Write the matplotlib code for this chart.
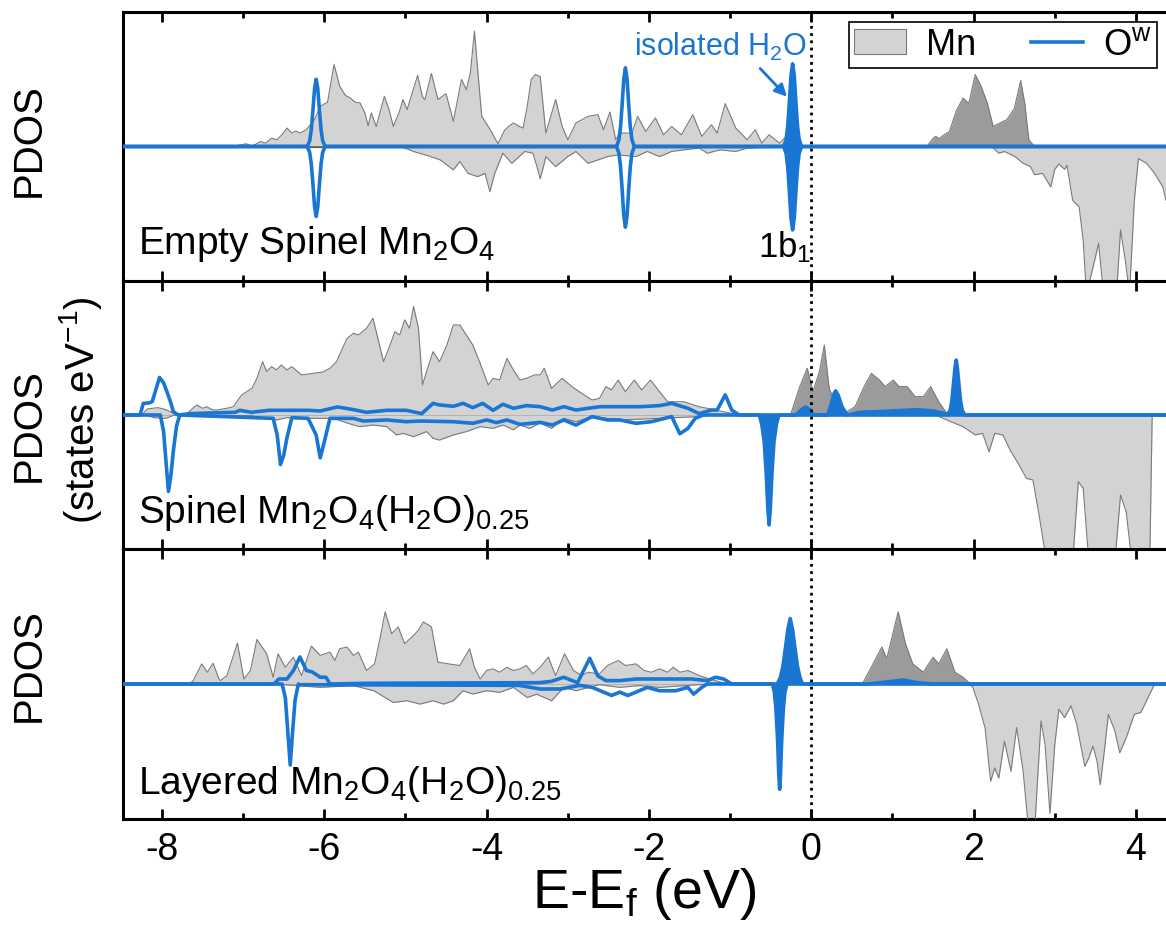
import matplotlib
matplotlib.use("Agg")
import matplotlib.pyplot as plt
from matplotlib.patches import Patch
from matplotlib.lines import Line2D
from matplotlib.ticker import MultipleLocator
import numpy as np

plt.rcParams["font.family"] = ["Liberation Sans", "DejaVu Sans"]
plt.rcParams["mathtext.default"] = "regular"
plt.rcParams["axes.unicode_minus"] = False

# ---------------- Panel 1: empty spinel Mn2O4 ----------------
mn_up_1_e = [-8.48, -7.12, -7.05, -6.96, -6.90, -6.85, -6.79, -6.72, -6.65, -6.58, -6.52, -6.46,
             -6.40, -6.35, -6.30, -6.22, -6.12, -6.05, -5.96, -5.88, -5.81, -5.74, -5.68, -5.62,
             -5.56, -5.50, -5.46, -5.42, -5.36, -5.26, -5.20, -5.15, -5.08, -5.03, -4.98, -4.85,
             -4.79, -4.76, -4.68, -4.60, -4.50, -4.41, -4.31, -4.25, -4.20, -4.15, -4.10, -4.06,
             -3.95, -3.86, -3.78, -3.73, -3.67, -3.60, -3.55, -3.50, -3.45, -3.40, -3.34, -3.27,
             -3.15, -3.07, -3.00, -2.90, -2.75, -2.63, -2.56, -2.48, -2.41, -2.36, -2.21, -2.14,
             -2.04, -1.92, -1.82, -1.72, -1.60, -1.46, -1.35, -1.23, -1.16, -1.06, -0.93, -0.79,
             -0.69, -0.61, -0.52, -0.39, -0.27, -0.17, -0.10,
             1.40, 1.43, 1.50, 1.53, 1.58, 1.62, 1.70, 1.79, 1.87, 1.94, 2.02, 2.09, 2.17, 2.24,
             2.31, 2.41, 2.50, 2.58, 2.63, 2.68, 2.75, 4.37]
mn_up_1 = [0, 0, 0.1, 0.2, 0.05, 0.15, 0.37, 0.25, 0.62, 0.5, 0.9, 1.37,
           1.0, 1.15, 1.0, 1.25, 2.0, 2.98, 3.3, 6.1, 4.48, 3.8, 3.61, 3.3,
           3.24, 2.5, 1.54, 2.49, 1.49, 3.73, 2.7, 1.49, 2.5, 3.49, 2.74, 5.28,
           3.7, 3.49, 5.43, 3.49, 3.93, 1.87, 4.98, 4.23, 5.5, 8.58, 5.0, 2.24,
           1.2, 0.2, 1.2, 1.49, 1.75, 1.5, 1.37, 3.0, 4.98, 5.35, 5.2, 1.0,
           3.5, 1.5, 0.5, 1.75, 2.24, 2.37, 1.25, 2.56, 0.5, 1.0, 1.0, 2.24,
           1.12, 2.12, 0.87, 1.49, 0.87, 2.37, 0.75, 1.62, 1.0, 3.19, 1.37, 0.5,
           1.25, 0.25, 0.87, 0.25, 1.0, 0.12, 0,
           0, 0.05, 0.6, 0.75, 0.6, 0.8, 1.1, 2.7, 3.6, 3.2, 5.35, 4.5, 3.2, 1.5,
           1.7, 2.0, 2.8, 4.9, 3.2, 0.5, 0, 0]
mn_dn_1_e = [-8.48, -5.06, -4.90, -4.69, -4.57, -4.41, -4.33, -4.23, -4.11, -4.02, -3.96, -3.90,
             -3.80, -3.69, -3.53, -3.43, -3.38, -3.34, -3.30, -3.27, -3.15, -3.00, -2.90, -2.75,
             -2.63, -2.51, -2.38, -2.16, -2.02, -1.87, -1.72, -1.57, -1.38, -1.28, -1.13, -0.93,
             -0.79, -0.59, -0.40,
             2.20, 2.24, 2.31, 2.38, 2.51, 2.61, 2.70, 2.75, 2.85, 2.95, 3.00, 3.05, 3.12, 3.15,
             3.22, 3.30, 3.35, 3.39, 3.47, 3.54, 3.60, 3.76, 3.81, 3.87, 3.92, 3.98, 4.03, 4.13,
             4.23, 4.33, 4.37]
mn_dn_1 = [0, 0, -0.37, -0.75, -1.0, -1.74, -1.12, -2.0, -2.24, -2.0, -3.36, -2.0,
           -0.5, -1.25, -0.37, -0.5, -1.5, -2.4, -1.5, -0.75, -1.5, -0.75, -0.37, -1.25,
           -1.0, -0.75, -0.62, -0.75, -0.37, -0.75, -0.37, -0.25, -0.12, -0.5, -0.25, -0.37,
           -0.12, -0.07, 0,
           0, -0.1, -0.5, -0.37, -0.75, -1.25, -1.5, -2.1, -2.0, -3.0, -1.7, -1.3, -1.7, -1.4,
           -4.0, -4.5, -7.0, -11, -9.0, -7.2, -11, -11, -6.2, -8.5, -11, -4.0, -0.9, -1.25,
           -2.0, -3.0, -4.0]
ow_up_1_e = [-8.48, -6.21, -6.18, -6.16, -6.14, -6.12, -6.10, -6.08, -6.06, -6.04, -6.02, -5.99,
             -2.40, -2.37, -2.35, -2.33, -2.31, -2.29, -2.27, -2.25, -2.23, -2.21, -2.18,
             -0.34, -0.31, -0.29, -0.27, -0.25, -0.23, -0.21, -0.19, -0.17, -0.15, -0.12, 4.37]
ow_up_1 = [0, 0, 0.42, 1.25, 2.7, 4.3, 5.0, 4.3, 2.7, 1.25, 0.42, 0,
           0, 0.5, 1.46, 3.16, 5.03, 5.85, 5.03, 3.16, 1.46, 0.5, 0,
           0, 0.52, 1.54, 3.32, 5.29, 6.15, 5.29, 3.32, 1.54, 0.52, 0, 0]
ow_dn_1_e = ow_up_1_e
ow_dn_1 = [0, 0, -0.44, -1.3, -2.8, -4.47, -5.2, -4.47, -2.8, -1.3, -0.44, 0,
           0, -0.51, -1.5, -3.24, -5.16, -6.0, -5.16, -3.24, -1.5, -0.51, 0,
           0, -0.53, -1.55, -3.35, -5.33, -6.2, -5.33, -3.35, -1.55, -0.53, 0, 0]

# ---------------- Panel 2: spinel Mn2O4(H2O)0.25 ----------------
mn_up_2_e = [-8.48, -8.25, -8.18, -8.05, -7.95, -7.85, -7.70, -7.62, -7.57, -7.50, -7.45, -7.38,
             -7.33, -7.20, -7.12, -7.02, -6.89, -6.83, -6.76, -6.71, -6.65, -6.59, -6.53, -6.46,
             -6.40, -6.28, -6.14, -6.02, -5.93, -5.85, -5.72, -5.64, -5.58, -5.48, -5.40, -5.34,
             -5.27, -5.19, -5.13, -5.07, -5.01, -4.95, -4.90, -4.84, -4.79, -4.74, -4.66, -4.58,
             -4.49, -4.41, -4.33, -4.25, -4.17, -4.08, -3.98, -3.92, -3.84, -3.75, -3.67, -3.59,
             -3.51, -3.41, -3.34, -3.29, -3.20, -3.07, -2.95, -2.83, -2.70, -2.61, -2.53, -2.46,
             -2.38, -2.29, -2.18, -2.09, -1.98, -1.87, -1.77, -1.57, -1.38, -1.18, -0.98, -0.88,
             -0.30, -0.25, -0.15, -0.05, 0.02, 0.10, 0.16, 0.22, 0.32, 0.44, 0.54, 0.64, 0.74,
             0.84, 0.91, 1.01, 1.08, 1.18, 1.28, 1.38, 1.47, 1.57, 1.67, 1.75, 1.87, 4.37]
mn_up_2 = [0, 0, 0.45, 0.55, 0.4, 0.1, 0.05, 0.5, 0.75, 0.5, 0.62, 0.4,
           0.37, 0.5, 0.62, 1.49, 2.0, 2.74, 3.98, 3.24, 3.61, 3.36, 3.73, 3.36,
           3.61, 2.99, 3.11, 3.2, 3.49, 3.98, 5.72, 6.1, 5.97, 6.47, 7.22, 5.72,
           3.98, 5.22, 6.22, 5.97, 7.1, 6.47, 8.1, 6.47, 2.24, 3.24, 4.73, 3.98,
           5.22, 6.72, 6.72, 5.97, 5.22, 3.86, 2.24, 2.74, 2.61, 4.23, 3.36, 2.61,
           2.74, 2.99, 3.0, 3.49, 1.99, 2.74, 2.12, 1.62, 1.12, 1.24, 2.12, 1.87,
           2.61, 1.74, 2.61, 1.87, 2.61, 1.74, 0.99, 0.99, 0.62, 0.37, 0.12, 0,
           0, 0.12, 1.99, 3.49, 1.74, 3.24, 5.22, 1.99, 0.5, 0.25, 0.62, 1.99, 3.11,
           2.61, 2.12, 2.61, 2.12, 2.12, 1.37, 1.37, 2.12, 0.99, 0.12, 0.1, 0, 0]
mn_dn_2_e = [-8.48, -8.20, -8.10, -7.95, -7.85, -7.50, -6.90, -6.75, -6.59, -6.46, -6.14, -5.89,
             -5.64, -5.56, -5.40, -5.23, -5.11, -5.03, -4.90, -4.74, -4.66, -4.58, -4.41, -4.25,
             -4.08, -3.92, -3.80, -3.67, -3.59, -3.47, -3.34, -3.20, -3.05, -2.90, -2.70, -2.36,
             -1.87, -1.38, -1.20,
             1.50, 1.55, 1.72, 1.87, 2.02, 2.11, 2.19, 2.26, 2.36, 2.46, 2.56, 2.65, 2.73, 2.80,
             2.90, 3.22, 3.29, 3.35, 3.42, 3.74, 3.81, 3.88, 3.95, 4.17, 4.20, 4.37]
mn_dn_2 = [0, 0, -0.2, -0.25, 0, -0.05, -0.05, -0.25, -0.37, -0.2, -0.25, -0.25,
           -0.75, -0.87, -0.75, -0.87, -1.49, -1.37, -1.62, -1.24, -1.74, -1.87, -1.49, -1.24,
           -0.87, -1.0, -0.75, -1.1, -0.75, -1.0, -0.6, -1.0, -0.25, -0.5, -0.12, -0.37,
           -0.25, -0.12, 0,
           0, -0.05, -0.5, -0.87, -1.49, -1.37, -2.74, -1.37, -1.49, -2.74, -3.73, -4.73, -4.85,
           -7.24, -11, -11, -4.98, -5.47, -11, -11, -5.97, -7.24, -11, -11, 0, 0]
ow_up_2_e = [-8.48, -8.27, -8.23, -8.16, -8.12, -8.06, -8.03, -7.98, -7.94, -7.89, -7.86, -7.80,
             -7.65, -7.40, -7.10, -7.04, -6.90, -6.68, -6.46, -6.20, -6.05, -5.84, -5.64, -5.48,
             -5.23, -4.99, -4.80, -4.66, -4.58, -4.41, -4.29, -4.17, -4.05, -3.92, -3.80, -3.67,
             -3.51, -3.34, -3.19, -3.05, -2.90, -2.75, -2.60, -2.36, -2.11, -1.87, -1.72, -1.52,
             -1.38, -1.23, -1.16, -1.06, -0.98, -0.89,
             -0.19, -0.12, -0.07, -0.02, 0.03, 0.20, 0.25, 0.28, 0.30, 0.33, 0.38, 0.44,
             0.60, 1.00, 1.30, 1.50, 1.65, 1.68, 1.71, 1.73, 1.75, 1.77, 1.785, 1.80, 1.82, 1.84,
             1.86, 1.89, 4.37]
ow_up_2 = [0, 0, 0.87, 0.9, 1.0, 2.2, 2.8, 2.4, 1.76, 0.9, 0.25, 0,
           0.1, 0.15, 0.2, 0.35, 0.2, 0.35, 0.35, 0.35, 0.3, 0.6, 0.4, 0.2,
           0.35, 0.35, 0.1, 0.87, 0.75, 0.65, 0.87, 0.55, 0.87, 0.35, 0.8, 0.5,
           0.7, 0.62, 0.37, 0.62, 0.37, 0.5, 0.62, 0.62, 0.62, 0.7, 0.87, 0.5,
           0.1, 0.37, 0.37, 1.5, 0.37, 0,
           0, 0.4, 0.6, 0.4, 0, 0, 0.9, 1.6, 1.8, 1.5, 0.6, 0,
           0.2, 0.3, 0.4, 0.3, 0.1, 0, 0.35, 1.0, 2.2, 3.5, 4.1, 3.5, 2.2, 1.0,
           0.35, 0, 0]
ow_dn_2_e = [-8.48, -8.02, -7.98, -7.95, -7.92, -7.89, -7.86, -7.82, -7.78, -6.63, -6.58, -6.54,
             -6.50, -6.46, -6.40, -6.20, -6.10, -6.05, -6.00, -5.93, -5.64, -5.52, -5.23, -4.99,
             -4.82, -4.41, -4.17, -4.00, -3.88, -3.75, -3.59, -3.34, -3.19, -3.05, -2.90, -2.70,
             -2.51, -2.36, -2.16, -1.97, -1.72, -1.62, -1.52, -1.43, -1.33,
             -0.64, -0.61, -0.58, -0.555, -0.535, -0.52, -0.505, -0.485, -0.46, -0.43, -0.40, 4.37]
ow_dn_2 = [0, 0, -1.24, -3.5, -5.7, -4.5, -2.7, -0.8, 0, -0.25, -1.5, -3.7,
           -3.0, -1.7, -0.2, -0.25, -1.5, -3.2, -2.0, -0.25, -0.25, -0.45, -0.37, -0.5,
           -0.45, -0.5, -0.62, -0.37, -0.57, -0.37, -0.7, -0.55, -0.75, -0.37, -0.75, -0.12,
           -0.37, -0.37, -0.62, -0.5, -0.12, -1.4, -1.0, -0.25, 0,
           0, -0.7, -2.0, -4.4, -7.0, -8.2, -7.0, -4.4, -2.0, -0.7, 0, 0]

# ---------------- Panel 3: layered Mn2O4(H2O)0.25 ----------------
mn_up_3_e = [-8.48, -7.68, -7.62, -7.51, -7.44, -7.37, -7.30, -7.28, -7.20, -7.07, -6.99, -6.91,
             -6.83, -6.71, -6.63, -6.57, -6.48, -6.38, -6.28, -6.16, -6.05, -5.93, -5.87, -5.81,
             -5.72, -5.64, -5.58, -5.48, -5.38, -5.31, -5.25, -5.17, -5.09, -5.01, -4.92, -4.84,
             -4.78, -4.68, -4.60, -4.47, -4.33, -4.21, -4.15, -4.08, -4.00, -3.92, -3.84, -3.75,
             -3.67, -3.59, -3.51, -3.43, -3.34, -3.24, -3.15, -3.04, -2.93, -2.83, -2.75, -2.61,
             -2.51, -2.38, -2.29, -2.16, -2.06, -1.97, -1.87, -1.77, -1.70, -1.62, -1.52, -1.38,
             -1.18, -1.03,
             0.60, 0.64, 0.76, 0.87, 0.93, 1.07, 1.16, 1.25, 1.38, 1.50, 1.57, 1.67, 1.77, 1.87,
             1.94, 1.98, 4.37]
mn_up_3 = [0, 0, 0.2, 1.49, 0.87, 1.54, 0.4, 0.25, 0.62, 3.03, 0.37, 1.0,
           3.3, 2.24, 0.5, 2.24, 1.24, 1.99, 0.62, 2.81, 2.12, 2.36, 1.74, 2.61,
           2.74, 2.12, 2.36, 1.0, 1.49, 3.48, 5.35, 3.73, 4.23, 2.99, 3.48, 3.98,
           4.6, 4.23, 1.62, 1.49, 1.37, 2.61, 1.24, 0.37, 1.0, 1.12, 0.87, 1.24,
           1.0, 1.12, 1.37, 0.75, 1.24, 1.99, 0.62, 2.24, 1.0, 0.62, 0.87, 0.75,
           1.37, 1.74, 1.37, 1.49, 1.0, 0.87, 1.12, 0.87, 1.24, 0.87, 1.0, 0.62,
           0.25, 0,
           0, 0.12, 1.49, 2.74, 1.87, 5.35, 2.99, 1.49, 0.87, 1.99, 1.49, 2.61, 0.87, 0.5,
           0.12, 0, 0]
mn_dn_3_e = [-8.48, -6.60, -6.05, -5.64, -5.39, -5.15, -4.98, -4.82, -4.66, -4.53, -4.41, -4.29,
             -4.17, -4.00, -3.84, -3.67, -3.50, -3.38, -3.34, -3.20, -3.05, -2.90, -2.61, -2.36,
             -2.11, -1.87, -1.38, -1.20,
             1.95, 1.99, 2.06, 2.14, 2.21, 2.26, 2.31, 2.38, 2.46, 2.53, 2.61, 2.68, 2.75, 2.83,
             2.88, 2.94, 3.00, 3.05, 3.12, 3.20, 3.27, 3.37, 3.42, 3.47, 3.52, 3.56, 3.61, 3.66,
             3.74, 3.80, 3.88, 3.98, 4.06, 4.13, 4.23, 4.37]
mn_dn_3 = [0, 0, -0.25, -0.12, -0.5, -1.37, -1.24, -1.49, -1.24, -1.49, -1.24, -0.5,
           -0.75, -0.5, -0.62, -0.25, -1.0, -0.75, -0.87, -1.24, -0.25, -0.5, -0.05, -0.25,
           -0.12, -0.25, -0.05, 0,
           0, -0.25, -1.49, -3.23, -7.21, -6.22, -6.97, -4.23, -6.47, -3.23, -6.47, -11, -11, -2.74,
           -4.48, -9.6, -4.48, -1.87, -2.49, -1.62, -2.99, -6.1, -5.47, -4.6, -5.72, -7.46, -4.98, -2.24,
           -3.48, -5.1, -3.98, -2.24, -2.11, -1.24, 0, 0]
ow_up_3_e = [-8.48, -6.62, -6.56, -6.46, -6.38, -6.30, -6.22, -6.15, -6.05, -5.98, -5.93, -5.50,
             -3.34, -3.20, -3.05, -2.88, -2.73, -2.63, -2.53, -2.36, -2.16, -1.87, -1.67, -1.47,
             -1.28, -1.18, -1.08, -0.98,
             -0.42, -0.38, -0.35, -0.32, -0.29, -0.26, -0.23, -0.20, -0.17, -0.14, -0.11,
             0.70, 1.00, 1.13, 1.30, 1.50, 4.37]
ow_up_3 = [0, 0, 0.37, 0.37, 1.0, 2.0, 1.0, 0.9, 0.5, 0.5, 0, 0.05,
           0.1, 0.2, 0.5, 0.1, 1.9, 0.6, 0.25, 0.25, 0.37, 0.37, 0.37, 0.37,
           0.25, 0.5, 0.37, 0,
           0, 0.5, 1.3, 2.6, 4.0, 4.85, 4.0, 2.6, 1.3, 0.5, 0,
           0, 0.2, 0.3, 0.1, 0, 0]
ow_dn_3_e = [-8.48, -6.52, -6.48, -6.45, -6.42, -6.39, -6.36, -6.32, -6.30, -3.60, -3.34, -3.09,
             -2.85, -2.70, -2.56, -2.46, -2.36, -2.26, -2.16, -2.02, -1.87, -1.67, -1.52, -1.45,
             -1.35, -1.28,
             -0.48, -0.455, -0.435, -0.415, -0.40, -0.39, -0.38, -0.365, -0.345, -0.325, -0.30, 4.37]
ow_dn_3 = [0, 0, -1.0, -3.5, -6.0, -3.5, -1.2, 0, -0.05, -0.1, -0.37, -0.37,
           -0.1, -0.25, -0.6, -0.85, -0.6, -0.85, -0.6, -0.25, -0.5, -0.5, -0.25, -0.75,
           -0.25, 0,
           0, -0.6, -1.9, -4.2, -6.8, -7.8, -6.8, -4.2, -1.9, -0.6, 0, 0]

panel_labels = ["Empty Spinel Mn$_2$O$_4$",
                "Spinel Mn$_2$O$_4$(H$_2$O)$_{0.25}$",
                "Layered Mn$_2$O$_4$(H$_2$O)$_{0.25}$"]
label_y = [-7.9, -7.95, -8.05]
tick_values = [-8, -6, -4, -2, 0, 2, 4]

# energy where Mn states switch to the darker (unoccupied) shading, and where O^w fill starts
mn_dark_from = [0.5, -0.3, 0.3]
ow_fill_from = [-0.5, -0.8, -0.7]

LIGHT = "#d3d3d3"
DARK = "#9b9b9b"
EDGE = "#7a7a7a"
BLUE = "#1976d2"

W, H = 1166, 929
fig = plt.figure(figsize=(W / 100, H / 100), dpi=100)

left = 123 / W
width = 1.0 - left
panel_px = [(13, 282), (282, 550), (550, 820)]
axes = []
for top, bot in panel_px:
    ax = fig.add_axes([left, 1 - bot / H, width, (bot - top) / H])
    axes.append(ax)

series = [
    (mn_up_1_e, mn_up_1, mn_dn_1_e, mn_dn_1, ow_up_1_e, ow_up_1, ow_dn_1_e, ow_dn_1),
    (mn_up_2_e, mn_up_2, mn_dn_2_e, mn_dn_2, ow_up_2_e, ow_up_2, ow_dn_2_e, ow_dn_2),
    (mn_up_3_e, mn_up_3, mn_dn_3_e, mn_dn_3, ow_up_3_e, ow_up_3, ow_dn_3_e, ow_dn_3),
]

for i, ax in enumerate(axes):
    mue, mu, mde, md, oue, ou, ode, od = [np.asarray(a, dtype=float) for a in series[i]]
    split = mn_dark_from[i]
    ax.axhline(0, color="#555555", lw=0.8, zorder=1)
    ax.fill_between(mue, 0, mu, where=mue <= split, color=LIGHT, lw=0, zorder=2)
    ax.fill_between(mue, 0, mu, where=mue >= split, color=DARK, lw=0, zorder=2)
    ax.fill_between(mde, 0, md, color=LIGHT, lw=0, zorder=2)
    ax.plot(mue, mu, color=EDGE, lw=0.8, zorder=3)
    ax.plot(mde, md, color=EDGE, lw=0.8, zorder=3)

    f0 = ow_fill_from[i]
    ax.fill_between(oue, 0, ou, where=oue >= f0, color=BLUE, lw=0, zorder=4)
    ax.fill_between(ode, 0, od, where=ode >= f0, color=BLUE, lw=0, zorder=4)
    ax.plot(oue, ou, color=BLUE, lw=2.6, zorder=5, solid_joinstyle="round")
    ax.plot(ode, od, color=BLUE, lw=2.6, zorder=5, solid_joinstyle="round")

    ax.axvline(0, color="black", lw=2.0, ls=(0, (1.0, 1.6)), zorder=6)

    ax.set_xlim(-8.48, 4.37)
    ax.set_ylim(-10, 10)
    ax.set_yticks([])
    ax.set_xticks(tick_values)
    ax.xaxis.set_minor_locator(MultipleLocator(1))
    ax.tick_params(axis="x", which="major", direction="in", top=True, bottom=True,
                   length=7, width=2.0, labelsize=27, pad=9)
    ax.tick_params(axis="x", which="minor", direction="in", top=True, bottom=True,
                   length=4.5, width=2.0)
    if i < 2:
        ax.tick_params(axis="x", labelbottom=False)
    for s in ("left", "top", "bottom"):
        ax.spines[s].set_linewidth(2.2)
    ax.spines["right"].set_visible(False)

    ax.text(-8.30, label_y[i], panel_labels[i], fontsize=28, ha="left", va="baseline", zorder=7)

axes[2].set_xlabel("E-E$_f$ (eV)", fontsize=40, labelpad=-2)

# annotations on the top panel
ax1 = axes[0]
ax1.text(-2.19, 6.8, "isolated H$_2$O", color=BLUE, fontsize=22, ha="left", va="baseline", zorder=7)
ax1.annotate("", xy=(-0.30, 3.7), xytext=(-0.63, 5.8),
             arrowprops=dict(arrowstyle="-|>", color=BLUE, lw=2.0, mutation_scale=18,
                             shrinkA=0, shrinkB=0), zorder=7)
ax1.text(-0.66, -8.2, "1b$_1$", fontsize=25, ha="left", va="baseline", zorder=7)

handles = [Patch(facecolor=LIGHT, edgecolor=EDGE, lw=0.8, label="Mn"),
           Line2D([], [], color=BLUE, lw=2.6, label="O$^w$")]
leg = ax1.legend(handles=handles, loc="upper right", bbox_to_anchor=(1157 / W, 1 - 23 / H),
                 bbox_transform=fig.transFigure, ncol=2, fontsize=26, frameon=True,
                 fancybox=False, edgecolor="black", framealpha=1, borderpad=0.15,
                 handlelength=1.45, handleheight=0.7, columnspacing=1.5, handletextpad=0.55,
                 borderaxespad=0)
leg.get_frame().set_linewidth(1.2)
leg.set_zorder(10)

# y-axis labels
fig.text(29 / W, 1 - 140 / H, "PDOS", rotation=90, fontsize=29, ha="center", va="center")
fig.text(29 / W, 1 - 425 / H, "PDOS", rotation=90, fontsize=29, ha="center", va="center")
fig.text(81 / W, 1 - 410 / H, "(states eV$^{-1}$)", rotation=90, fontsize=29,
         ha="center", va="center")
fig.text(29 / W, 1 - 665 / H, "PDOS", rotation=90, fontsize=29, ha="center", va="center")

fig.savefig("out.png", dpi=100)
